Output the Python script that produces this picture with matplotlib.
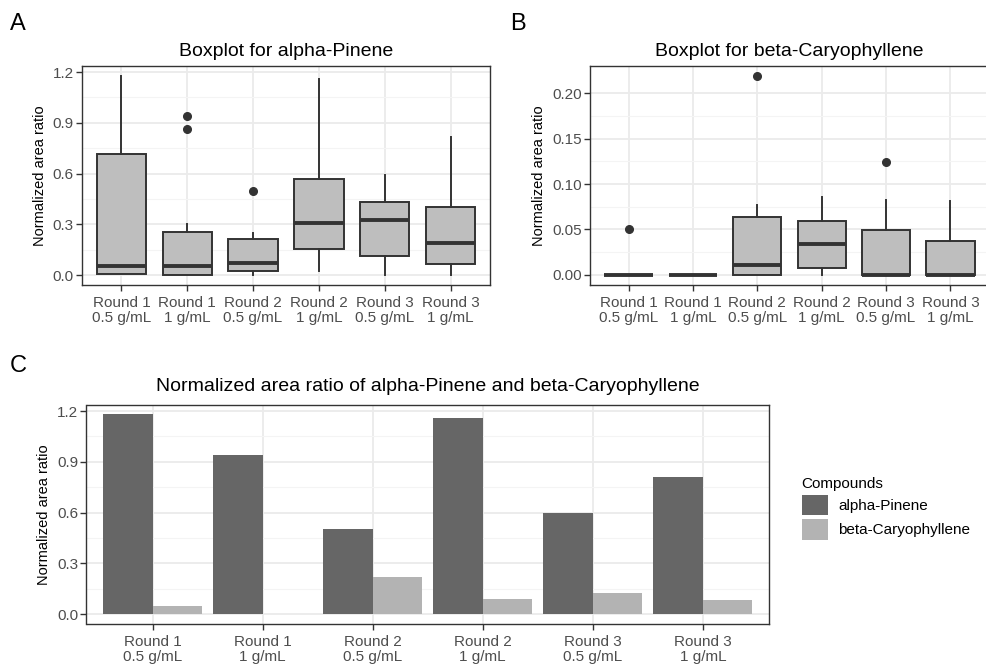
import matplotlib
matplotlib.use("Agg")
import matplotlib.pyplot as plt
from matplotlib.patches import Patch
import numpy as np

plt.rcParams['font.family'] = ['Liberation Sans', 'DejaVu Sans']

# ---- data ----
categories = ["Round 1\n0.5 g/mL", "Round 1\n1 g/mL", "Round 2\n0.5 g/mL",
              "Round 2\n1 g/mL", "Round 3\n0.5 g/mL", "Round 3\n1 g/mL"]

# alpha-Pinene box statistics per group
pinene_whislo = [0.005, 0.000, 0.000, 0.025, 0.000, 0.000]
pinene_q1     = [0.006, 0.000, 0.026, 0.152, 0.110, 0.063]
pinene_med    = [0.055, 0.053, 0.073, 0.307, 0.325, 0.189]
pinene_q3     = [0.717, 0.252, 0.211, 0.567, 0.433, 0.404]
pinene_whishi = [1.176, 0.300, 0.246, 1.160, 0.593, 0.814]
pinene_fliers = [[], [0.940, 0.865], [0.498], [], [], []]

# beta-Caryophyllene box statistics per group
caryo_whislo = [0.000, 0.000, 0.000, 0.000, 0.000, 0.000]
caryo_q1     = [0.000, 0.000, 0.000, 0.0077, 0.000, 0.000]
caryo_med    = [0.000, 0.000, 0.0113, 0.034, 0.000, 0.000]
caryo_q3     = [0.000, 0.000, 0.064, 0.0593, 0.0494, 0.0377]
caryo_whishi = [0.000, 0.000, 0.077, 0.0857, 0.0827, 0.0816]
caryo_fliers = [[0.0505], [], [0.219], [], [0.1237], []]

# maximum normalized area ratio per group
compounds = ["alpha-Pinene", "beta-Caryophyllene"]
pinene_max = [1.18, 0.94, 0.50, 1.16, 0.595, 0.81]
caryo_max = [0.050, 0.000, 0.219, 0.086, 0.124, 0.082]

# ---- style ----
W, H = 987, 667
fig = plt.figure(figsize=(W / 100, H / 100), dpi=100)

BORDER = "#333333"
TICKLBL = "#4D4D4D"
MAJOR = "#EBEBEB"
MINOR = "#F4F4F4"


def px_axes(l, r, t, b):
    return fig.add_axes([l / W, 1 - b / H, (r - l) / W, (b - t) / H])


def style_axes(ax, yticks, yfmt, ylim):
    x = np.arange(len(categories))
    ax.set_xlim(-0.6, len(categories) - 0.4)
    ax.set_ylim(*ylim)
    ax.set_xticks(x)
    ax.set_xticklabels(categories, fontsize=11, color=TICKLBL, linespacing=1.12)
    ax.set_yticks(yticks)
    ax.set_yticklabels([yfmt.format(v) for v in yticks], fontsize=11, color=TICKLBL)
    minor = [(a + b) / 2 for a, b in zip(yticks[:-1], yticks[1:])]
    ax.set_yticks(minor, minor=True)
    ax.tick_params(which="minor", length=0)
    ax.tick_params(which="major", length=4, width=1.0, color=BORDER, pad=2)
    ax.tick_params(axis="x", which="major", pad=4)
    ax.set_axisbelow(True)
    ax.grid(True, which="major", color=MAJOR, linewidth=1.3)
    ax.grid(True, which="minor", axis="y", color=MINOR, linewidth=0.8)
    for s in ax.spines.values():
        s.set_color(BORDER)
        s.set_linewidth(1.0)
    ax.set_ylabel("Normalized area ratio", fontsize=10.5, color="black", labelpad=4)
    ax.set_facecolor("white")


def draw_boxes(ax, whislo, q1, med, q3, whishi, fliers):
    stats = []
    for i in range(len(categories)):
        stats.append(dict(whislo=whislo[i], q1=q1[i], med=med[i], q3=q3[i],
                          whishi=whishi[i], fliers=fliers[i]))
    ax.bxp(stats, positions=np.arange(len(categories)), widths=0.75,
           patch_artist=True, showcaps=False,
           boxprops=dict(facecolor="#BEBEBE", edgecolor=BORDER, linewidth=1.4),
           medianprops=dict(color=BORDER, linewidth=2.8),
           whiskerprops=dict(color=BORDER, linewidth=1.4),
           flierprops=dict(marker="o", markersize=5.5, markerfacecolor=BORDER,
                           markeredgecolor=BORDER))


# Panel A
axA = px_axes(82, 490, 66, 285)
draw_boxes(axA, pinene_whislo, pinene_q1, pinene_med, pinene_q3, pinene_whishi, pinene_fliers)
style_axes(axA, [0.0, 0.3, 0.6, 0.9, 1.2], "{:.1f}", (-0.059, 1.2355))
axA.set_title("Boxplot for alpha-Pinene", fontsize=14, pad=7)

# Panel B
axB = px_axes(590, 989, 66, 285)
draw_boxes(axB, caryo_whislo, caryo_q1, caryo_med, caryo_q3, caryo_whishi, caryo_fliers)
style_axes(axB, [0.00, 0.05, 0.10, 0.15, 0.20], "{:.2f}", (-0.011, 0.2297))
axB.set_title("Boxplot for beta-Caryophyllene", fontsize=14, pad=7)

# Panel C
axC = px_axes(86.5, 769, 405, 624)
x = np.arange(len(categories))
bw = 0.45
axC.bar(x - bw / 2, pinene_max, width=bw, color="#666666", label=compounds[0])
axC.bar(x + bw / 2, caryo_max, width=bw, color="#B3B3B3", label=compounds[1])
style_axes(axC, [0.0, 0.3, 0.6, 0.9, 1.2], "{:.1f}", (-0.059, 1.2355))
axC.set_title("Normalized area ratio of alpha-Pinene and beta-Caryophyllene",
              fontsize=14, pad=10)

handles = [Patch(facecolor="#666666", label=compounds[0]),
           Patch(facecolor="#B3B3B3", label=compounds[1])]
fig.legend(handles=handles, title="Compounds", loc="upper left",
           bbox_to_anchor=(788 / W, 1 - 463 / H), frameon=False,
           fontsize=11, title_fontsize=11, handlelength=1.7, handleheight=1.7,
           handletextpad=0.7, labelspacing=0.25, alignment="left")

# Panel tags
for tag, xp, yp in [("A", 10, 24), ("B", 510, 24), ("C", 10, 366)]:
    fig.text(xp / W, 1 - yp / H, tag, fontsize=17, va="center", ha="left")

fig.savefig("out.png", dpi=100)
